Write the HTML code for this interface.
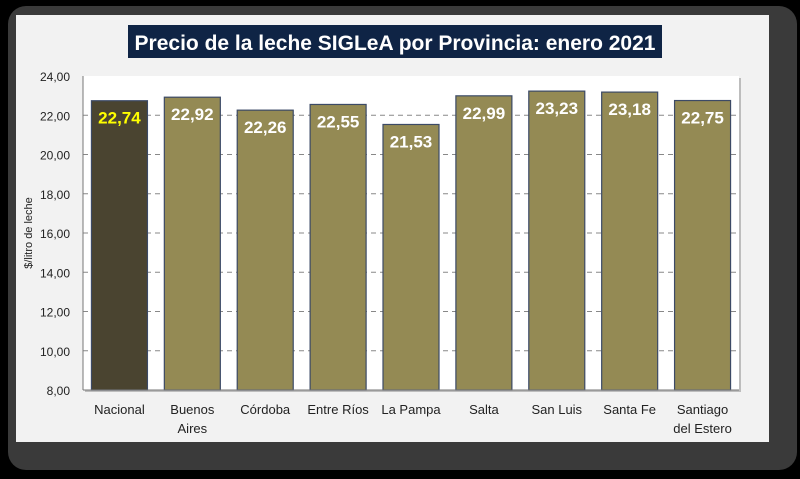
<!DOCTYPE html>
<html><head><meta charset="utf-8"><style>
body{margin:0;background:#000;width:800px;height:474px;overflow:hidden;font-family:"Liberation Sans",sans-serif}
</style></head><body>
<svg width="800" height="474">
<rect x="8" y="6" width="789" height="464" rx="18" fill="#3a3a3a"/>
<rect x="16" y="15" width="753" height="427" fill="#f2f2f2"/>
<rect x="128" y="25" width="534" height="33" fill="#0f2445"/>
<text x="395" y="50" text-anchor="middle" fill="#fff" font-size="21" font-weight="bold">Precio de la leche SIGLeA  por Provincia: enero 2021</text>
<rect x="85" y="78" width="656" height="314" fill="#999" opacity="0.6"/>
<rect x="83" y="76" width="656" height="314" fill="#fff"/>
<g id="grid"></g><g id="bars"></g><g id="ticks"></g>
<text transform="translate(32,233) rotate(-90)" text-anchor="middle" font-size="11" fill="#222">$/litro de leche</text>
</svg>
<script>
const categories=[["Nacional"],["Buenos","Aires"],["Córdoba"],["Entre Ríos"],["La Pampa"],["Salta"],["San Luis"],["Santa Fe"],["Santiago","del Estero"]];
const values=[22.74,22.92,22.26,22.55,21.53,22.99,23.23,23.18,22.75];
const valueLabels=["22,74","22,92","22,26","22,55","21,53","22,99","23,23","23,18","22,75"];
const yTicks=[8,10,12,14,16,18,20,22,24];
const yTickLabels=["8,00","10,00","12,00","14,00","16,00","18,00","20,00","22,00","24,00"];
const NS="http://www.w3.org/2000/svg";
const X0=83,W=656,Y0=390,H=314,ymin=8,ymax=24;
const y=v=>Y0-(v-ymin)/(ymax-ymin)*H;
const band=W/categories.length;
const x=i=>X0+i*band;
function mk(t,a,p){const e=document.createElementNS(NS,t);for(const k in a)e.setAttribute(k,a[k]);p.appendChild(e);return e;}
const grid=document.getElementById('grid'),bars=document.getElementById('bars'),ticks=document.getElementById('ticks');
yTicks.forEach((t,i)=>{
  if(t>ymin&&t<ymax){const l=mk('line',{x1:X0,x2:X0+W,y1:y(t),y2:y(t),stroke:'#888','stroke-dasharray':'5,4'},grid);
  
  }
  const tx=mk('text',{x:70,y:y(t)+5,'text-anchor':'end','font-size':'12',fill:'#222'},ticks);
  tx.textContent=yTickLabels[i];
  
  
});
mk('line',{x1:X0,x2:X0+W,y1:Y0,y2:Y0,stroke:'#777'},ticks);
mk('line',{x1:X0,x2:X0,y1:76,y2:Y0,stroke:'#777'},ticks);
values.forEach((v,i)=>{
  const bw=56,bx=x(i)+(band-bw)/2;
  const r=mk('rect',{x:bx,y:y(v),width:bw,height:Y0-y(v),fill:i==0?'#4a4430':'#948a54',stroke:'#3c4a66','stroke-width':1.2},bars);
  
  
  const vl=mk('text',{x:bx+bw/2,y:y(v)+23,'text-anchor':'middle','font-size':'17','font-weight':'bold',fill:i==0?'#ffff00':'#fff'},bars);
  vl.textContent=valueLabels[i];
  
  
  categories[i].forEach((s,j)=>{
    const c=mk('text',{x:bx+bw/2,y:414+j*19,'text-anchor':'middle','font-size':'13',fill:'#222'},ticks);
    c.textContent=s;
    
    
  });
});
</script>
</body></html>
